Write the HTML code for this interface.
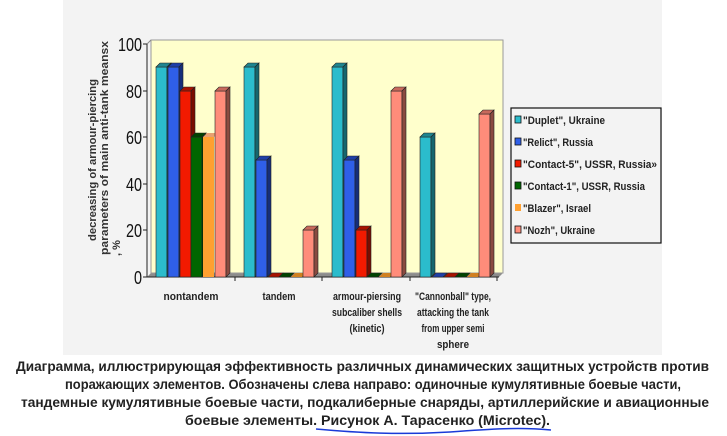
<!DOCTYPE html>
<html><head><meta charset="utf-8"><style>
html,body{margin:0;padding:0;background:#fff;width:727px;height:436px;overflow:hidden}
svg{display:block}
</style></head><body>
<svg width="727" height="436" viewBox="0 0 727 436" xmlns="http://www.w3.org/2000/svg">
<rect x="63" y="0" width="599" height="355" fill="#f3f3f3"/>
<polygon points="147,277 151,273 503,273 499,277" fill="#8c8c8c"/>
<rect x="151" y="40" width="352" height="233" fill="#ffffcc" stroke="#9a9a9a" stroke-width="1"/>
<line x1="147" y1="44" x2="151" y2="40" stroke="#888"/>
<line x1="147" y1="44" x2="147" y2="277" stroke="#222"/>
<line x1="147" y1="277" x2="499" y2="277" stroke="#222"/>
<g stroke="#222">
<line x1="143" y1="44" x2="147" y2="44"/><line x1="143" y1="91" x2="147" y2="91"/>
<line x1="143" y1="137" x2="147" y2="137"/><line x1="143" y1="184" x2="147" y2="184"/>
<line x1="143" y1="230" x2="147" y2="230"/><line x1="143" y1="277" x2="147" y2="277"/>
<line x1="235" y1="277" x2="235" y2="281"/><line x1="322" y1="277" x2="322" y2="281"/>
<line x1="410" y1="277" x2="410" y2="281"/><line x1="497" y1="277" x2="497" y2="281"/>
</g>
<g font-family="Liberation Sans, sans-serif" font-size="18" fill="#111" text-anchor="end">
<text x="142" y="51" textLength="24" lengthAdjust="spacingAndGlyphs">100</text>
<text x="142" y="98" textLength="16" lengthAdjust="spacingAndGlyphs">80</text>
<text x="142" y="144" textLength="16" lengthAdjust="spacingAndGlyphs">60</text>
<text x="142" y="191" textLength="16" lengthAdjust="spacingAndGlyphs">40</text>
<text x="142" y="237" textLength="16" lengthAdjust="spacingAndGlyphs">20</text>
<text x="142" y="284" textLength="8" lengthAdjust="spacingAndGlyphs">0</text>
</g>
<g font-family="Liberation Sans, sans-serif" font-size="11" font-weight="bold" fill="#333" text-anchor="middle">
<text transform="translate(96,160) rotate(-90)" textLength="162" lengthAdjust="spacingAndGlyphs">decreasing of armour-piercing</text>
<text transform="translate(108,148) rotate(-90)" textLength="214" lengthAdjust="spacingAndGlyphs">parameters of main anti-tank meansx</text>
<text transform="translate(120,248) rotate(-90)">, %</text>
</g>
<g stroke="#222" stroke-width=".6">
<g transform="translate(156,67)"><rect width="11" height="210" fill="#2bbccc"/><polygon points="0,0 4,-4 15,-4 11,0" fill="#1f8590"/><polygon points="11,0 15,-4 15,206 11,210" fill="#16666e"/></g>
<g transform="translate(168,67)"><rect width="11" height="210" fill="#2f5fe8"/><polygon points="0,0 4,-4 15,-4 11,0" fill="#1f3fa8"/><polygon points="11,0 15,-4 15,206 11,210" fill="#162e7a"/></g>
<g transform="translate(180,91)"><rect width="11" height="186" fill="#f21a00"/><polygon points="0,0 4,-4 15,-4 11,0" fill="#a81200"/><polygon points="11,0 15,-4 15,182 11,186" fill="#7a0d00"/></g>
<g transform="translate(191,137)"><rect width="11" height="140" fill="#006600"/><polygon points="0,0 4,-4 15,-4 11,0" fill="#004400"/><polygon points="11,0 15,-4 15,136 11,140" fill="#003300"/></g>
<g transform="translate(203,137)"><rect width="11" height="140" fill="#ffa030" stroke="none"/><polygon points="0,0 4,-4 15,-4 11,0" fill="#e8a070" stroke="none"/></g>
<g transform="translate(215,91)"><rect width="11" height="186" fill="#ff8c7a"/><polygon points="0,0 4,-4 15,-4 11,0" fill="#c86a5c"/><polygon points="11,0 15,-4 15,182 11,186" fill="#8a4a40"/></g>
<g transform="translate(244,67)"><rect width="11" height="210" fill="#2bbccc"/><polygon points="0,0 4,-4 15,-4 11,0" fill="#1f8590"/><polygon points="11,0 15,-4 15,206 11,210" fill="#16666e"/></g>
<g transform="translate(256,160)"><rect width="11" height="117" fill="#2f5fe8"/><polygon points="0,0 4,-4 15,-4 11,0" fill="#1f3fa8"/><polygon points="11,0 15,-4 15,113 11,117" fill="#162e7a"/></g>
<polygon points="268,277 272,273 283,273 279,277" fill="#a81200"/>
<polygon points="279,277 283,273 294,273 290,277" fill="#004400"/>
<polygon points="291,277 295,273 306,273 302,277" fill="#d08020" stroke="none"/>
<g transform="translate(303,230)"><rect width="11" height="47" fill="#ff8c7a"/><polygon points="0,0 4,-4 15,-4 11,0" fill="#c86a5c"/><polygon points="11,0 15,-4 15,43 11,47" fill="#8a4a40"/></g>
<g transform="translate(332,67)"><rect width="11" height="210" fill="#2bbccc"/><polygon points="0,0 4,-4 15,-4 11,0" fill="#1f8590"/><polygon points="11,0 15,-4 15,206 11,210" fill="#16666e"/></g>
<g transform="translate(344,160)"><rect width="11" height="117" fill="#2f5fe8"/><polygon points="0,0 4,-4 15,-4 11,0" fill="#1f3fa8"/><polygon points="11,0 15,-4 15,113 11,117" fill="#162e7a"/></g>
<g transform="translate(356,230)"><rect width="11" height="47" fill="#f21a00"/><polygon points="0,0 4,-4 15,-4 11,0" fill="#a81200"/><polygon points="11,0 15,-4 15,43 11,47" fill="#7a0d00"/></g>
<polygon points="367,277 371,273 382,273 378,277" fill="#004400"/>
<polygon points="379,277 383,273 394,273 390,277" fill="#d08020" stroke="none"/>
<g transform="translate(391,91)"><rect width="11" height="186" fill="#ff8c7a"/><polygon points="0,0 4,-4 15,-4 11,0" fill="#c86a5c"/><polygon points="11,0 15,-4 15,182 11,186" fill="#8a4a40"/></g>
<g transform="translate(420,137)"><rect width="11" height="140" fill="#2bbccc"/><polygon points="0,0 4,-4 15,-4 11,0" fill="#1f8590"/><polygon points="11,0 15,-4 15,136 11,140" fill="#16666e"/></g>
<polygon points="432,277 436,273 447,273 443,277" fill="#1f3fa8"/>
<polygon points="444,277 448,273 459,273 455,277" fill="#a81200"/>
<polygon points="455,277 459,273 470,273 466,277" fill="#004400"/>
<polygon points="467,277 471,273 482,273 478,277" fill="#d08020" stroke="none"/>
<g transform="translate(479,114)"><rect width="11" height="163" fill="#ff8c7a"/><polygon points="0,0 4,-4 15,-4 11,0" fill="#c86a5c"/><polygon points="11,0 15,-4 15,159 11,163" fill="#8a4a40"/></g>
</g>
<g font-family="Liberation Sans, sans-serif" font-size="11" font-weight="bold" fill="#222" text-anchor="middle">
<text x="191" y="300" textLength="55" lengthAdjust="spacingAndGlyphs">nontandem</text>
<text x="279" y="300" textLength="33" lengthAdjust="spacingAndGlyphs">tandem</text>
<text x="367" y="300" textLength="68" lengthAdjust="spacingAndGlyphs">armour-piersing</text>
<text x="367" y="316" textLength="70" lengthAdjust="spacingAndGlyphs">subcaliber shells</text>
<text x="367" y="332" textLength="35" lengthAdjust="spacingAndGlyphs">(kinetic)</text>
<text x="453" y="300" textLength="76" lengthAdjust="spacingAndGlyphs">"Cannonball" type,</text>
<text x="453" y="316" textLength="72" lengthAdjust="spacingAndGlyphs">attacking the tank</text>
<text x="453" y="332" textLength="63" lengthAdjust="spacingAndGlyphs">from upper semi</text>
<text x="453" y="348" textLength="32" lengthAdjust="spacingAndGlyphs">sphere</text>
</g>
<rect x="511" y="108" width="150" height="135" fill="#f3f3f3" stroke="#111" stroke-width="1.2"/>
<g font-family="Liberation Sans, sans-serif" font-size="11" font-weight="bold" fill="#222">
<rect x="515" y="116" width="6" height="7" fill="#2bbccc" stroke="#111" stroke-width=".8"/><text x="523" y="124" textLength="82" lengthAdjust="spacingAndGlyphs">"Duplet", Ukraine</text>
<rect x="515" y="138" width="6" height="7" fill="#2f5fe8" stroke="#111" stroke-width=".8"/><text x="523" y="146" textLength="70" lengthAdjust="spacingAndGlyphs">"Relict", Russia</text>
<rect x="515" y="160" width="6" height="7" fill="#f21a00" stroke="#111" stroke-width=".8"/><text x="523" y="168" textLength="134" lengthAdjust="spacingAndGlyphs">"Contact-5", USSR, Russia»</text>
<rect x="515" y="182" width="6" height="7" fill="#006600" stroke="#111" stroke-width=".8"/><text x="523" y="190" textLength="122" lengthAdjust="spacingAndGlyphs">"Contact-1", USSR, Russia</text>
<rect x="515" y="204" width="6" height="7" fill="#ffa030"/><text x="523" y="212" textLength="68" lengthAdjust="spacingAndGlyphs">"Blazer", Israel</text>
<rect x="515" y="226" width="6" height="7" fill="#ff8c7a" stroke="#111" stroke-width=".8"/><text x="523" y="234" textLength="72" lengthAdjust="spacingAndGlyphs">"Nozh", Ukraine</text>
</g>
<g font-family="Liberation Sans, sans-serif" font-size="13.5" font-weight="bold" fill="#222">
<text x="16" y="371" textLength="693" lengthAdjust="spacingAndGlyphs">Диаграмма, иллюстрирующая эффективность различных динамических защитных устройств против</text>
<text x="65" y="389" textLength="616" lengthAdjust="spacingAndGlyphs">поражающих элементов. Обозначены слева направо: одиночные кумулятивные боевые части,</text>
<text x="21" y="407" textLength="688" lengthAdjust="spacingAndGlyphs">тандемные кумулятивные боевые части, подкалиберные снаряды, артиллерийские и авиационные</text>
<text x="185" y="425" textLength="365" lengthAdjust="spacingAndGlyphs">боевые элементы. Рисунок А. Тарасенко (Microtec).</text>
</g>
<path d="M316,429 C360,433 400,435 450,432 C490,429 520,427 551,430" fill="none" stroke="#1a3ad8" stroke-width="1.5"/>
</svg>
</body></html>
